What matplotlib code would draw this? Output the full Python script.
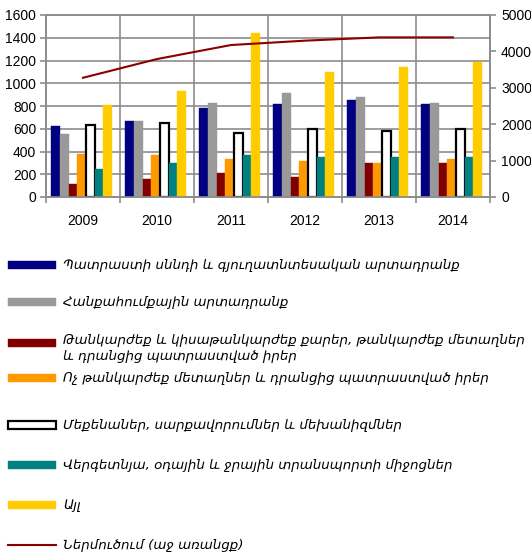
import matplotlib
matplotlib.use("Agg")
import matplotlib.pyplot as plt
from matplotlib.patches import Rectangle
from matplotlib.lines import Line2D
import numpy as np

years = ["2009", "2010", "2011", "2012", "2013", "2014"]

food = [620, 670, 780, 815, 850, 815]
mining = [550, 670, 830, 915, 880, 830]
precious = [110, 160, 215, 180, 300, 300]
base_metals = [375, 370, 335, 320, 300, 335]
machinery = [630, 650, 560, 600, 580, 600]
transport = [250, 300, 370, 355, 355, 355]
other = [810, 935, 1440, 1095, 1145, 1185]
imports = [3275, 3790, 4175, 4295, 4385, 4385]

labels = [
    "Պատրաստի սննդի և գյուղատնտեսական արտադրանք",
    "Հանքահումքային արտադրանք",
    "Թանկարժեք և կիսաթանկարժեք քարեր, թանկարժեք մետաղներ\nև դրանցից պատրաստված իրեր",
    "Ոչ թանկարժեք մետաղներ և դրանցից պատրաստված իրեր",
    "Մեքենաներ, սարքավորումներ և մեխանիզմներ",
    "Վերգետնյա, օդային և ջրային տրանսպորտի միջոցներ",
    "Այլ",
    "Ներմուծում (աջ առանցք)",
]

series = [food, mining, precious, base_metals, machinery, transport, other]
faces = ["#000080", "#999999", "#800000", "#FF9900", "#FFFFFF", "#008080", "#FFCC00"]
edges = ["#000080", "#999999", "#800000", "#FF9900", "#000000", "#008080", "#FFCC00"]
line_color = "#8B0000"
grid_color = "#8c8c8c"

W, H = 531, 556
fig = plt.figure(figsize=(W / 100, H / 100), dpi=100)
ax = fig.add_axes([46 / W, 1 - 197 / H, 444 / W, 182 / H])

x = np.arange(len(years))
bw = 0.117
for k, (vals, fc, ec) in enumerate(zip(series, faces, edges)):
    lw = 1.6 if k == 4 else 0.3
    ax.bar(x + (k - 3) * bw - 0.02, vals, width=bw, color=fc, edgecolor=ec,
           linewidth=lw, zorder=3)

ax.set_xlim(-0.5, 5.5)
ax.set_ylim(0, 1600)
ax.set_yticks(np.arange(0, 1601, 200))
ax.set_xticks(x)
ax.set_xticklabels(years)
ax.set_xticks(np.arange(-0.5, 6, 1), minor=True)
ax.tick_params(axis="x", which="major", length=0, pad=12)
ax.tick_params(axis="x", which="minor", length=4, color=grid_color, width=1.2)
ax.tick_params(axis="y", length=4, color=grid_color, width=1.2, pad=3)
ax.grid(axis="y", color=grid_color, linewidth=1.2, zorder=0)
ax.grid(axis="x", which="minor", color=grid_color, linewidth=1.2, zorder=0)
for s in ax.spines.values():
    s.set_color(grid_color)
    s.set_linewidth(1.2)

ax2 = ax.twinx()
ax2.plot(x, imports, color=line_color, linewidth=1.5, zorder=5)
ax2.set_ylim(0, 5000)
ax2.set_yticks(np.arange(0, 5001, 1000))
ax2.tick_params(axis="y", length=4, color=grid_color, width=1.2, pad=4)
for s in ax2.spines.values():
    s.set_color(grid_color)
    s.set_linewidth(1.2)

for a in (ax, ax2):
    for t in a.get_xticklabels() + a.get_yticklabels():
        t.set_fontfamily("Liberation Sans")
        t.set_fontsize(10)

# legend drawn below the plot area
ys = [265, 302, 343, 378, 425, 465, 505, 545]
for i, (lab, y) in enumerate(zip(labels, ys)):
    if i < 7:
        fig.patches.append(Rectangle((8 / W, 1 - (y + 4) / H), 48 / W, 8 / H,
                                     transform=fig.transFigure,
                                     facecolor=faces[i], edgecolor=edges[i],
                                     linewidth=1.6 if i == 4 else 0.3))
    else:
        fig.lines.append(Line2D([8 / W, 56 / W], [1 - y / H, 1 - y / H],
                                transform=fig.transFigure, color=line_color,
                                linewidth=1.5))
    if "\n" in lab:
        fig.text(63 / W, 1 - (y - 9) / H, lab, fontsize=9.6, style="italic",
                 family="DejaVu Sans", va="top", ha="left", linespacing=1.25)
    else:
        fig.text(63 / W, 1 - y / H, lab, fontsize=9.6, style="italic",
                 family="DejaVu Sans", va="center", ha="left")

fig.savefig("out.png", dpi=100)
